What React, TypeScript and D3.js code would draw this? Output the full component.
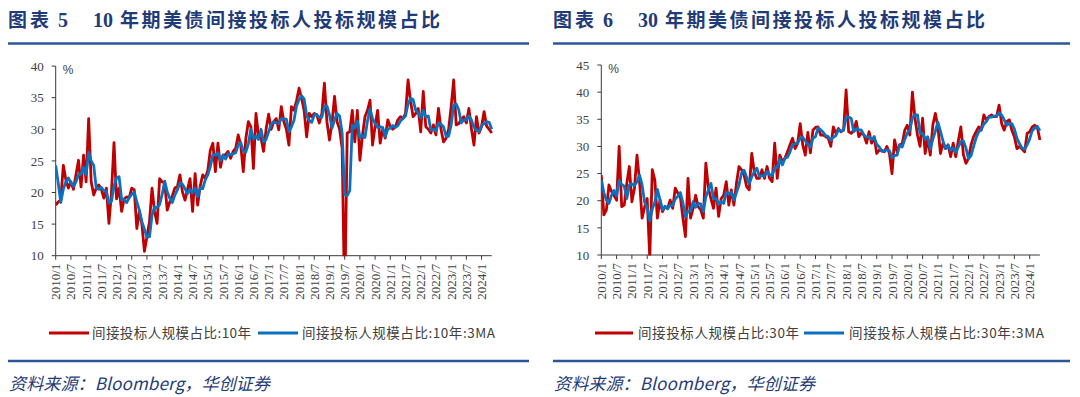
import React from "react";
import * as d3 from "d3";

// ---------- data ----------
const months = d3.timeMonth.range(new Date(2010, 0, 1), new Date(2024, 5, 1)); // 2010/1 .. 2024/5

const tickLabels = [
  "2010/1", "2010/7", "2011/1", "2011/7", "2012/1", "2012/7", "2013/1", "2013/7",
  "2014/1", "2014/7", "2015/1", "2015/7", "2016/1", "2016/7", "2017/1", "2017/7",
  "2018/1", "2018/7", "2019/1", "2019/7", "2020/1", "2020/7", "2021/1", "2021/7",
  "2022/1", "2022/7", "2023/1", "2023/7", "2024/1",
];

// 10Y: indirect bidder share (%)
const red10 = [
  18.0, 18.5, 18.8, 24.3, 22.0, 20.7, 21.7, 20.5, 22.8, 25.1,
  20.9, 25.9, 21.7, 31.7, 21.7, 19.6, 20.7, 21.2, 20.5, 19.1,
  20.7, 15.1, 20.0, 27.9, 19.0, 20.7, 17.0, 19.0, 19.3, 19.2,
  20.7, 20.4, 14.3, 17.0, 15.0, 10.7, 13.0, 15.4, 20.7, 17.0,
  15.1, 22.2, 21.7, 21.5, 17.2, 18.5, 19.5, 20.7, 20.9, 22.8,
  20.1, 18.8, 20.5, 22.2, 17.0, 23.0, 18.0, 21.0, 22.8, 22.2,
  23.5, 26.7, 27.8, 23.3, 27.8, 24.0, 25.9, 26.0, 26.5, 25.4,
  26.5, 27.0, 29.1, 27.5, 23.3, 28.5, 31.2, 30.4, 23.8, 32.5,
  29.0, 28.6, 26.5, 30.0, 32.4, 30.0, 31.2, 31.7, 29.9, 33.6,
  31.2, 30.0, 27.5, 33.6, 33.0, 34.5, 36.5, 34.9, 33.0, 28.8,
  32.5, 32.0, 32.5, 32.3, 31.0, 32.5, 37.3, 31.2, 28.3, 31.0,
  35.2, 31.2, 30.0, 27.0, 2.0, 29.4, 29.6, 33.0, 28.0, 33.0,
  25.1, 29.0, 32.0, 33.0, 34.6, 27.5, 30.5, 33.0, 27.8, 30.0,
  28.6, 31.5, 30.4, 30.0, 30.4, 31.5, 32.0, 31.7, 32.5, 37.8,
  34.4, 32.0, 32.5, 33.3, 29.6, 36.0, 30.4, 30.0, 29.4, 30.7,
  29.1, 33.3, 30.0, 28.0, 28.6, 30.0, 33.6, 37.8, 30.7, 30.9,
  31.5, 32.0, 31.0, 33.3, 30.1, 27.5, 32.0, 29.4, 30.4, 32.8,
  30.5, 30.0, 29.4,
];

// 10Y: 3-month moving average (%)
const ma10 = [
  24.3, 21.5, 18.4, 20.5, 21.7, 22.3, 21.5, 21.0, 21.7, 22.8,
  22.9, 24.0, 22.8, 26.4, 25.0, 24.3, 20.7, 20.5, 20.8, 20.3,
  20.1, 18.3, 18.6, 21.0, 22.3, 22.5, 18.9, 18.9, 18.4, 19.2,
  19.7, 20.1, 18.5, 17.2, 15.4, 14.2, 12.9, 13.0, 16.4, 17.7,
  17.6, 18.1, 19.7, 21.8, 20.1, 19.1, 18.4, 19.6, 20.4, 21.5,
  21.3, 20.6, 19.8, 20.5, 19.9, 20.7, 19.3, 20.7, 20.6, 22.0,
  22.8, 24.1, 26.0, 25.9, 26.3, 25.0, 25.9, 25.3, 26.1, 26.0,
  26.1, 26.3, 27.5, 27.9, 26.6, 26.4, 27.7, 30.0, 28.5, 28.9,
  28.4, 30.0, 28.0, 28.4, 29.6, 30.8, 31.2, 31.0, 30.9, 31.7,
  31.6, 31.6, 29.6, 30.4, 31.4, 33.7, 34.7, 35.3, 34.8, 32.2,
  31.4, 31.1, 32.3, 32.3, 31.9, 31.9, 33.6, 33.7, 32.3, 30.2,
  31.5, 32.5, 32.1, 29.4, 19.7, 19.5, 20.3, 30.7, 30.2, 31.3,
  28.7, 29.0, 28.7, 31.3, 33.2, 31.7, 30.9, 30.3, 30.4, 30.3,
  28.8, 30.0, 30.2, 30.6, 30.3, 30.6, 31.3, 31.7, 32.1, 34.0,
  34.9, 34.7, 33.0, 32.6, 31.8, 33.0, 32.0, 32.1, 29.9, 30.0,
  29.7, 31.0, 30.8, 30.4, 28.9, 28.9, 30.7, 33.8, 34.0, 33.1,
  31.0, 31.5, 31.5, 32.1, 31.5, 30.3, 29.9, 29.6, 30.6, 30.9,
  31.2, 31.1, 30.0,
];

// 30Y: indirect bidder share (%)
const red30 = [
  24.7, 17.4, 18.3, 22.9, 21.7, 21.0, 20.1, 30.0, 18.9, 19.2,
  23.2, 26.3, 19.8, 22.3, 28.4, 23.5, 16.8, 18.9, 20.4, 9.5,
  25.7, 23.8, 16.8, 20.1, 18.0, 18.9, 18.6, 20.1, 18.6, 22.3,
  21.4, 20.7, 16.8, 13.4, 24.1, 16.8, 18.6, 21.0, 18.9, 18.3,
  16.8, 26.9, 22.3, 20.4, 18.6, 22.3, 17.1, 20.4, 21.0, 23.5,
  19.2, 22.0, 19.2, 23.2, 26.3, 25.7, 24.7, 22.6, 22.0, 28.7,
  25.3, 24.1, 24.1, 25.7, 24.1, 26.3, 24.1, 23.5, 30.6, 24.1,
  28.4, 27.2, 27.8, 29.0, 30.3, 31.5, 29.6, 30.6, 34.2, 30.3,
  28.4, 32.6, 28.8, 33.0, 33.5, 33.6, 32.1, 32.1, 31.8, 31.5,
  30.0, 33.6, 32.4, 33.3, 32.7, 33.0, 40.4, 32.7, 32.4, 33.0,
  34.6, 31.8, 32.5, 32.1, 30.6, 32.7, 30.6, 31.8, 28.7, 29.3,
  29.3, 29.0, 30.0, 28.7, 25.0, 31.2, 29.0, 30.3, 30.5, 33.0,
  33.9, 32.1, 40.0, 35.2, 32.1, 30.0, 35.2, 28.7, 31.5, 28.4,
  33.9, 36.1, 33.6, 28.7, 30.6, 29.6, 30.3, 28.1, 30.6, 28.1,
  31.0, 33.6, 28.5, 26.9, 27.8, 30.3, 31.8, 32.7, 33.6, 33.0,
  35.8, 34.9, 35.5, 35.8, 35.5, 35.5, 37.6, 34.2, 33.0, 34.6,
  34.9, 33.0, 31.8, 29.6, 30.0, 29.5, 29.0, 32.4, 32.7, 33.6,
  33.9, 33.5, 31.2,
];

// 30Y: 3-month moving average (%)
const ma30 = [
  23.8, 21.5, 20.1, 19.5, 21.0, 21.9, 20.9, 23.7, 23.0, 22.7,
  20.4, 22.9, 23.1, 22.8, 23.5, 24.7, 22.9, 19.7, 18.7, 16.3,
  18.5, 19.7, 22.1, 20.2, 18.3, 19.0, 18.5, 19.2, 19.1, 20.3,
  20.8, 21.5, 19.6, 17.0, 18.1, 18.1, 19.8, 18.8, 19.5, 19.4,
  18.0, 20.7, 22.0, 23.2, 20.4, 20.4, 19.3, 19.9, 19.5, 21.6,
  21.2, 21.6, 20.1, 21.5, 22.9, 25.1, 25.6, 24.3, 23.1, 24.4,
  25.3, 26.0, 24.5, 24.6, 24.6, 25.4, 24.8, 24.6, 26.1, 26.1,
  27.7, 26.6, 27.8, 28.0, 29.0, 30.3, 30.5, 30.6, 31.5, 31.7,
  31.0, 30.4, 29.9, 31.5, 31.8, 33.4, 33.1, 32.6, 32.0, 31.8,
  31.1, 31.7, 32.0, 33.1, 32.8, 33.0, 35.4, 35.4, 35.2, 32.7,
  33.3, 33.1, 33.0, 32.1, 31.7, 31.8, 31.3, 31.7, 30.4, 29.9,
  29.1, 29.2, 29.4, 29.2, 27.9, 28.3, 28.4, 30.2, 29.9, 31.3,
  32.5, 33.0, 35.3, 35.8, 35.8, 32.4, 32.4, 31.3, 31.8, 29.5,
  31.3, 32.8, 34.5, 32.8, 31.0, 29.6, 30.2, 29.3, 29.7, 28.9,
  29.9, 30.9, 31.0, 29.7, 27.7, 28.3, 30.0, 31.6, 32.7, 33.1,
  34.1, 34.6, 35.4, 35.4, 35.6, 35.6, 36.2, 35.8, 34.9, 33.9,
  34.2, 34.2, 33.2, 31.5, 30.5, 29.7, 29.5, 30.3, 31.4, 32.9,
  33.4, 33.7, 32.9,
];

const yTicks10 = [10, 15, 20, 25, 30, 35, 40];
const yTicks30 = [10, 15, 20, 25, 30, 35, 40, 45];

const titles = [
  { fig: "图表", num: "5", tenor: "10", rest: "年期美债间接投标人投标规模占比" },
  { fig: "图表", num: "6", tenor: "30", rest: "年期美债间接投标人投标规模占比" },
];
const legendRed = ["间接投标人规模占比:10年", "间接投标人规模占比:30年"];
const legendBlue = ["间接投标人规模占比:10年:3MA", "间接投标人规模占比:30年:3MA"];
const sourceText = "资料来源：Bloomberg，华创证券";

// ---------- styles ----------
const RED = "#C00000";
const BLUE = "#0A70C0";
const NAVY = "#1F3C78";
const RULE = "#2B579A";
const AXIS = "#3a3a3a";
const TXT = "#404040";
const CJK = "'Noto Sans CJK SC', 'Noto Sans', sans-serif";
const SERIF = "'Liberation Serif', 'DejaVu Serif', serif";

type PanelProps = {
  ox: number;
  idx: number;
  red: number[];
  ma: number[];
  yTicks: number[];
  x0: number;
  x1: number;
  yTop: number;
  yBot: number;
  legend: { r0: number; r1: number; rt: number; rtl: number; b0: number; b1: number; bt: number; btl: number };
  ruleEnd: number;
};

function Panel(p: PanelProps) {
  const n = months.length;
  const x = d3.scaleLinear().domain([0, n - 1]).range([p.x0, p.x1]);
  const y = d3
    .scaleLinear()
    .domain([d3.min(p.yTicks)!, d3.max(p.yTicks)!])
    .range([p.yBot, p.yTop]);
  const line = d3
    .line<number>()
    .x((_, i) => x(i))
    .y((d) => y(d))
    .curve(d3.curveLinear);
  const clipId = `clip${p.idx}`;
  const t = titles[p.idx];
  const ox = p.ox;
  return (
    <g>
      {/* title */}
      <text x={ox + 8} y={27} fontFamily={CJK} fontWeight={700} fontSize={19} fill={NAVY} textLength={41} lengthAdjust="spacing">
        {t.fig}
      </text>
      <text x={ox + 58} y={27} fontFamily={SERIF} fontWeight={700} fontSize={20} fill={NAVY}>
        {t.num}
      </text>
      <text x={ox + 93} y={27} fontFamily={SERIF} fontWeight={700} fontSize={20} fill={NAVY}>
        {t.tenor}
      </text>
      <text x={ox + 120} y={27} fontFamily={CJK} fontWeight={700} fontSize={19} fill={NAVY} textLength={320} lengthAdjust="spacing">
        {t.rest}
      </text>
      <line x1={ox + 8} x2={p.ruleEnd} y1={43.5} y2={43.5} stroke={RULE} strokeWidth={2.6} />

      {/* axes */}
      <line x1={p.x0} x2={p.x0} y1={y(d3.max(p.yTicks)!)} y2={p.yBot} stroke={AXIS} strokeWidth={1} />
      <line x1={p.x0} x2={p.x1} y1={p.yBot} y2={p.yBot} stroke={AXIS} strokeWidth={1} />
      {p.yTicks.map((v) => (
        <g key={v}>
          <line x1={p.x0 - 4} x2={p.x0} y1={y(v)} y2={y(v)} stroke={AXIS} />
          <text x={p.x0 - 12} y={y(v)} dy="0.36em" textAnchor="end" fontFamily={SERIF} fontSize={13} fill={TXT}>
            {v}
          </text>
        </g>
      ))}
      {tickLabels.map((lab, k) => {
        const xi = x(k * 6);
        return (
          <g key={lab}>
            <line x1={xi} x2={xi} y1={p.yBot} y2={p.yBot + 4} stroke={AXIS} />
            <text
              transform={`translate(${xi + 4.5},${p.yBot + 8}) rotate(-90)`}
              textAnchor="end"
              fontFamily={SERIF}
              fontSize={13}
              fill={TXT}
            >
              {lab}
            </text>
          </g>
        );
      })}
      <text x={p.x0 + 7} y={y(d3.max(p.yTicks)!) + 8} fontFamily="'Liberation Sans', Arial, sans-serif" fontSize={12} fill={TXT}>
        %
      </text>

      {/* series */}
      <clipPath id={clipId}>
        <rect x={p.x0} y={p.yTop - 10} width={p.x1 - p.x0 + 6} height={p.yBot - p.yTop + 10.5} />
      </clipPath>
      <g clipPath={`url(#${clipId})`}>
        <path d={line(p.red) ?? ""} fill="none" stroke={RED} strokeWidth={2.8} strokeLinejoin="round" />
        <path d={line(p.ma) ?? ""} fill="none" stroke={BLUE} strokeWidth={2.8} strokeLinejoin="round" />
      </g>

      {/* legend */}
      <line x1={p.legend.r0} x2={p.legend.r1} y1={333} y2={333} stroke={RED} strokeWidth={3} />
      <text x={p.legend.rt} y={338} fontFamily={CJK} fontSize={13.5} fill={TXT} textLength={p.legend.rtl} lengthAdjust="spacing">
        {legendRed[p.idx]}
      </text>
      <line x1={p.legend.b0} x2={p.legend.b1} y1={333} y2={333} stroke={BLUE} strokeWidth={3} />
      <text x={p.legend.bt} y={338} fontFamily={CJK} fontSize={13.5} fill={TXT} textLength={p.legend.btl} lengthAdjust="spacing">
        {legendBlue[p.idx]}
      </text>

      {/* source */}
      <line x1={ox + 8} x2={p.ruleEnd} y1={361} y2={361} stroke={RULE} strokeWidth={2.4} />
      <text x={ox + 9} y={390} fontFamily={CJK} fontStyle="italic" fontSize={17} fill={NAVY} textLength={261} lengthAdjust="spacing">
        {sourceText}
      </text>
    </g>
  );
}

export default function App() {
  return (
    <svg
      width={1080}
      height={397}
      viewBox="0 0 1080 397"
      style={{ position: "absolute", left: 0, top: 0, background: "#fff" }}
    >
      <rect width={1080} height={397} fill="#fff" />
      <Panel
        ox={0}
        idx={0}
        red={red10}
        ma={ma10}
        yTicks={yTicks10}
        x0={55.7}
        x1={491.7}
        yTop={66.1}
        yBot={255.7}
        legend={{ r0: 49, r1: 89, rt: 92, rtl: 159, b0: 258, b1: 298, bt: 302, btl: 193 }}
        ruleEnd={529}
      />
      <Panel
        ox={545}
        idx={1}
        red={red30}
        ma={ma30}
        yTicks={yTicks30}
        x0={601.3}
        x1={1039.9}
        yTop={65}
        yBot={255}
        legend={{ r0: 595, r1: 633, rt: 638, rtl: 161, b0: 804, b1: 844, bt: 849, btl: 195 }}
        ruleEnd={1070}
      />
    </svg>
  );
}
